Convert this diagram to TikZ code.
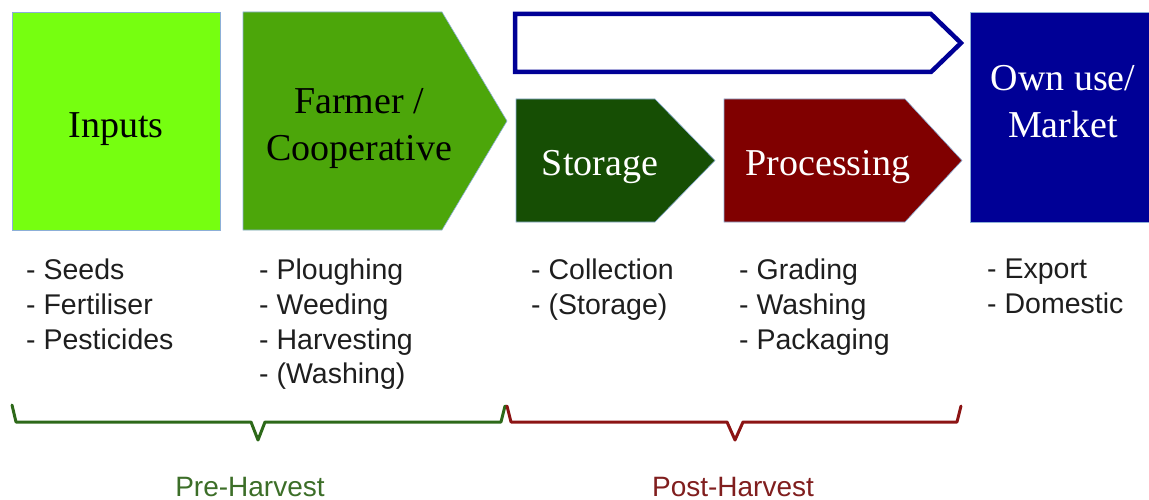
\documentclass[tikz,border=0pt]{standalone}
\usepackage{fontspec}
\setmainfont{Liberation Serif}
\setsansfont{Liberation Sans}
\begin{document}
\begin{tikzpicture}[x=1pt,y=-1pt]
% colours
\definecolor{inputgreen}{RGB}{118,255,16}
\definecolor{farmgreen}{RGB}{76,166,10}
\definecolor{storegreen}{RGB}{22,78,4}
\definecolor{procred}{RGB}{128,0,0}
\definecolor{navy}{RGB}{0,0,150}
\definecolor{edgeblue}{RGB}{140,175,215}
\definecolor{listgray}{RGB}{30,30,30}
\definecolor{bracegreen}{RGB}{45,105,25}
\definecolor{bracered}{RGB}{140,20,20}
\definecolor{pregreen}{RGB}{60,110,40}
\definecolor{postred}{RGB}{128,30,30}
\tikzset{
  stage/.style={draw=edgeblue, line width=0.6pt},
  boxlabel/.style={font=\fontsize{38}{47}\selectfont, align=center, inner sep=0pt},
  itemlist/.style={font=\sffamily\fontsize{28.5}{34.6}\selectfont, text=listgray, align=left, anchor=north west, inner sep=0pt},
  bracket/.style={line width=3pt, line join=round, line cap=round},
  phase/.style={font=\sffamily\fontsize{28}{32}\selectfont, inner sep=0pt, text depth=0pt}
}
\useasboundingbox (0,0) rectangle (1149,500);

% stage shapes
\filldraw[stage, fill=inputgreen] (12,12) rectangle (220,230);
\filldraw[stage, fill=farmgreen] (243,12) -- (442,12) -- (507,121) -- (442,230) -- (243,230) -- cycle;
\draw[navy, line width=4.5pt, fill=white, line join=miter] (515,14) -- (931,14) -- (961,43) -- (931,72) -- (515,72) -- cycle;
\filldraw[stage, fill=storegreen] (516,99) -- (655,99) -- (715,160.5) -- (655,222) -- (516,222) -- cycle;
\filldraw[stage, fill=procred] (724,99) -- (905,99) -- (962,160.5) -- (905,222) -- (724,222) -- cycle;
\filldraw[stage, fill=navy] (970,12) rectangle (1152,222);

% stage labels
\node[boxlabel] (inputs) at (116,129) {Inputs};
\node[boxlabel] (farmer) at (359,129) {Farmer /\\Cooperative};
\node[boxlabel, text=white] (storage) at (600,167) {Storage};
\node[boxlabel, text=white] (processing) at (828,167) {Processing};
\node[boxlabel, text=white] (market) at (1063,102) {Own use/\\Market};

% activity lists
\node[itemlist] (inlist) at (26,259) {- Seeds\\- Fertiliser\\- Pesticides};
\node[itemlist] (farmlist) at (259,259) {- Ploughing\\- Weeding\\- Harvesting\\- (Washing)};
\node[itemlist] (storelist) at (531,259) {- Collection\\- (Storage)};
\node[itemlist] (proclist) at (739,259) {- Grading\\- Washing\\- Packaging};
\node[itemlist] (marketlist) at (987,259) {- Export\\- Domestic};

% phase brackets
\draw[bracket, bracegreen] (12,405) -- (16,422) -- (251,422) -- (258,440) -- (265,422) -- (501,422) -- (505,406);
\draw[bracket, bracered] (507,406) -- (511,422) -- (727,422) -- (735,440) -- (743,422) -- (957,422) -- (961,406);

% phase names
\node[phase, text=pregreen, anchor=base] (pre) at (250,496) {Pre-Harvest};
\node[phase, text=postred, anchor=base] (post) at (733,496) {Post-Harvest};
\end{tikzpicture}
\end{document}
